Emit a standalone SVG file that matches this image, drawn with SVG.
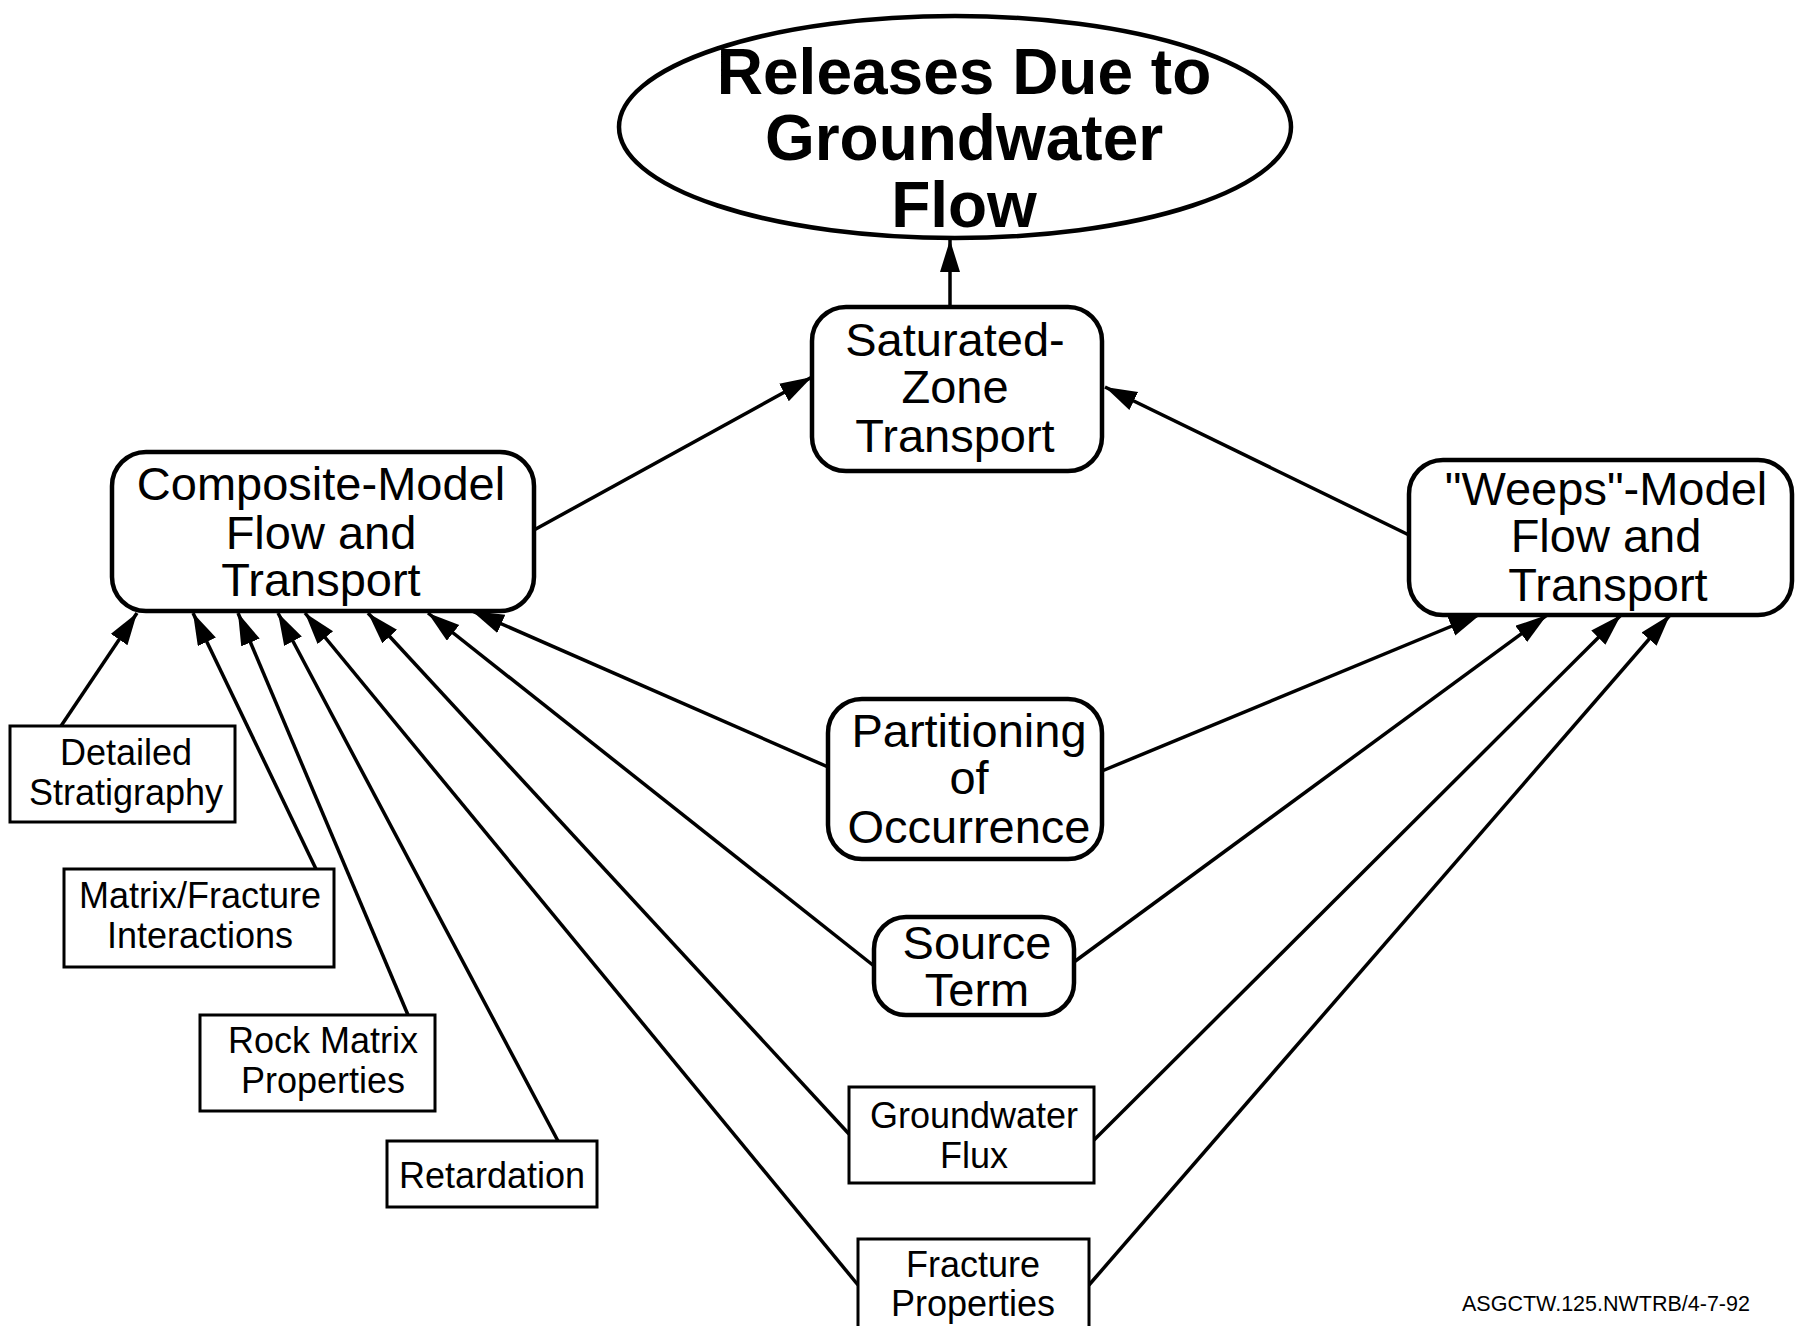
<svg xmlns="http://www.w3.org/2000/svg" width="1796" height="1326" viewBox="0 0 1796 1326">
<style>
.bg{fill:#ffffff}
.node{fill:#ffffff;stroke:#000000;stroke-width:4.5}
.sq{fill:#ffffff;stroke:#000000;stroke-width:3}
.t{font-family:"Liberation Sans",Arial,Helvetica,sans-serif;fill:#000000;text-anchor:middle}
.big{font-size:47px}
.small{font-size:36px}
.title{font-size:64px;font-weight:bold}
.foot{font-size:21.5px;text-anchor:start}
.edge{stroke:#000000;stroke-width:3.5;fill:none;marker-end:url(#ah)}
</style>
<defs>
<marker id="ah" markerUnits="userSpaceOnUse" markerWidth="34" markerHeight="22" refX="32" refY="10" orient="auto">
<path d="M0,0 L32,10 L0,20 Z" fill="#000000"/>
</marker>
</defs>
<rect class="bg" x="0" y="0" width="1796" height="1326"/>
<g id="connectors">
<line class="edge" x1="950" y1="307" x2="950" y2="240"/>
<line class="edge" x1="534" y1="530" x2="812" y2="377"/>
<line class="edge" x1="1411" y1="536" x2="1105" y2="387"/>
<line class="edge" x1="828" y1="767" x2="472" y2="611"/>
<line class="edge" x1="1102" y1="771" x2="1481" y2="614"/>
<line class="edge" x1="874" y1="966" x2="428" y2="613"/>
<line class="edge" x1="1074" y1="962" x2="1547" y2="615"/>
<line class="edge" x1="849" y1="1134" x2="368" y2="613"/>
<line class="edge" x1="1094" y1="1140" x2="1621" y2="615"/>
<line class="edge" x1="858" y1="1285" x2="305" y2="613"/>
<line class="edge" x1="1089" y1="1285" x2="1670" y2="615"/>
<line class="edge" x1="558" y1="1141" x2="278" y2="613"/>
<line class="edge" x1="408" y1="1015" x2="238" y2="613"/>
<line class="edge" x1="316" y1="869" x2="193" y2="613"/>
<line class="edge" x1="61" y1="726" x2="137" y2="613"/>
</g>
<g id="releases">
<ellipse class="node" cx="955" cy="127" rx="336" ry="111"/>
<text class="t title" x="964" y="94">Releases Due to</text>
<text class="t title" x="964" y="160">Groundwater</text>
<text class="t title" x="964" y="227">Flow</text>
</g>
<g id="saturated">
<rect class="node" x="812" y="307" width="290" height="164" rx="34"/>
<text class="t big" x="955" y="356">Saturated-</text>
<text class="t big" x="955" y="403">Zone</text>
<text class="t big" x="955" y="452">Transport</text>
</g>
<g id="composite">
<rect class="node" x="112" y="452" width="422" height="159" rx="34"/>
<text class="t big" x="321" y="500">Composite-Model</text>
<text class="t big" x="321" y="549">Flow and</text>
<text class="t big" x="321" y="596">Transport</text>
</g>
<g id="weeps">
<rect class="node" x="1409" y="460" width="383" height="155" rx="34"/>
<text class="t big" x="1606" y="505">"Weeps"-Model</text>
<text class="t big" x="1606" y="552">Flow and</text>
<text class="t big" x="1608" y="601">Transport</text>
</g>
<g id="partitioning">
<rect class="node" x="828" y="699" width="274" height="160" rx="34"/>
<text class="t big" x="969" y="747">Partitioning</text>
<text class="t big" x="969" y="794">of</text>
<text class="t big" x="969" y="843">Occurrence</text>
</g>
<g id="source">
<rect class="node" x="874" y="917" width="200" height="98" rx="32"/>
<text class="t big" x="977" y="959">Source</text>
<text class="t big" x="977" y="1006">Term</text>
</g>
<g id="groundwater-flux">
<rect class="sq" x="849" y="1087" width="245" height="96"/>
<text class="t small" x="974" y="1128">Groundwater</text>
<text class="t small" x="974" y="1168">Flux</text>
</g>
<g id="fracture-properties">
<rect class="sq" x="858" y="1239" width="231" height="100"/>
<text class="t small" x="973" y="1277">Fracture</text>
<text class="t small" x="973" y="1316">Properties</text>
</g>
<g id="detailed">
<rect class="sq" x="10" y="726" width="225" height="96"/>
<text class="t small" x="126" y="765">Detailed</text>
<text class="t small" x="126" y="805">Stratigraphy</text>
</g>
<g id="matrix-fracture">
<rect class="sq" x="64" y="869" width="270" height="98"/>
<text class="t small" x="200" y="908">Matrix/Fracture</text>
<text class="t small" x="200" y="948">Interactions</text>
</g>
<g id="rock-matrix">
<rect class="sq" x="200" y="1015" width="235" height="96"/>
<text class="t small" x="323" y="1053">Rock Matrix</text>
<text class="t small" x="323" y="1093">Properties</text>
</g>
<g id="retardation">
<rect class="sq" x="387" y="1141" width="210" height="66"/>
<text class="t small" x="492" y="1188">Retardation</text>
</g>
<text class="t foot" x="1462" y="1311">ASGCTW.125.NWTRB/4-7-92</text>
</svg>
